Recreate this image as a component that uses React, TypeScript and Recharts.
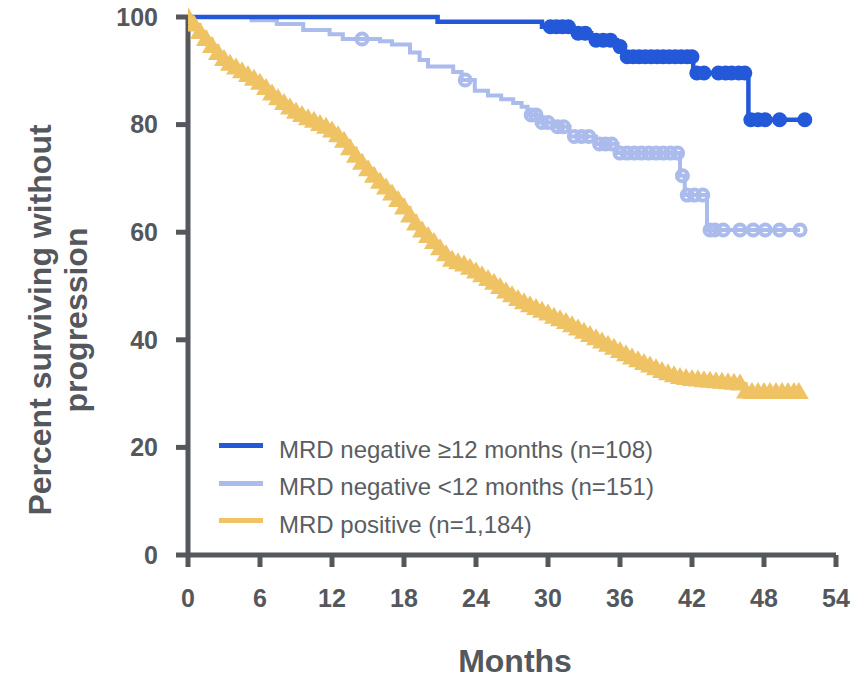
import { ComposedChart, Line, Scatter, XAxis, YAxis, Label } from "recharts";

const AXIS = "#54575c";
const FONT = "'Liberation Sans', Arial, sans-serif";

const monthTicks = [0, 6, 12, 18, 24, 30, 36, 42, 48, 54];
const percentTicks = [0, 20, 40, 60, 80, 100];

const seriesNames = [
  "MRD negative \u226512 months (n=108)",
  "MRD negative <12 months (n=151)",
  "MRD positive (n=1,184)",
];
const seriesColors = ["#2358d8", "#aabbec", "#efc264"];

// MRD negative >=12 months: KM steps + censor times
const negLongTimes = [0, 20.8, 29.5, 32.1, 33.6, 35.75, 36.25, 42.1, 46.7, 51.4];
const negLongSurv = [100, 99.1, 98.2, 97.0, 95.7, 94.5, 92.6, 89.6, 80.9, 80.9];
const negLongCensored = [
  30.2, 30.7, 31.2, 31.7, 32.5, 33.1, 34.0, 34.6, 35.2, 36.0, 36.6, 37.1, 37.6, 38.1,
  38.6, 39.1, 39.6, 40.1, 40.6, 41.1, 41.6, 42.0, 42.4, 43.0, 44.2, 44.8, 45.3, 45.9,
  46.4, 46.9, 47.5, 48.1, 49.3, 51.4,
];

// MRD negative <12 months
const negShortTimes = [
  0, 5.3, 7.4, 9.6, 11.8, 12.9, 16.0, 17.0, 18.5, 19.3, 20.0, 22.1, 22.8, 23.9, 25.0,
  26.1, 27.1, 27.8, 28.3, 29.2, 30.6, 31.8, 34.0, 35.8, 41.0, 41.4, 43.25, 51.0,
];
const negShortSurv = [
  100, 99.4, 98.7, 97.6, 96.8, 95.9, 95.5, 94.9, 93.4, 92.0, 90.8, 89.8, 88.3, 86.3, 85.4,
  84.7, 84.0, 83.3, 81.8, 80.4, 79.6, 77.8, 76.4, 74.7, 70.5, 66.9, 60.4, 60.4,
];
const negShortCensored = [
  14.5, 23.1, 28.6, 29.0, 29.5, 30.0, 30.8, 31.3, 32.2, 32.8, 33.4, 34.3, 34.8, 35.3,
  36.0, 36.6, 37.2, 37.8, 38.4, 39.0, 39.6, 40.2, 40.8, 41.2, 41.6, 42.2, 42.9, 43.5,
  43.9, 44.6, 46.0, 47.1, 48.1, 49.3, 51.0,
];

// MRD positive
const posTimes = [
  0, 0.5, 1, 1.5, 2, 2.5, 3, 3.5, 4, 4.5, 5, 5.5, 6, 6.5, 7, 7.5, 8, 8.5, 9, 9.5, 10,
  10.5, 11, 11.5, 12, 12.5, 13, 13.5, 14, 14.5, 15, 15.5, 16, 16.5, 17, 17.5, 18, 18.5,
  19, 19.5, 20, 20.5, 21, 21.5, 22, 22.5, 23, 23.5, 24, 24.5, 25, 25.5, 26, 26.5, 27,
  27.5, 28, 28.5, 29, 29.5, 30, 30.5, 31, 31.5, 32, 32.5, 33, 33.5, 34, 34.5, 35, 35.5,
  36, 36.5, 37, 37.5, 38, 38.5, 39, 39.5, 40, 40.5, 41, 41.5, 42, 42.5, 43, 43.5, 44,
  44.5, 45, 45.5, 46, 46.5, 47, 47.5, 48, 48.5, 49, 49.5, 50, 50.5, 50.9,
];
const posSurv = [
  100, 98.6, 97.2, 95.9, 94.6, 93.3, 92.2, 91.3, 90.6, 89.9, 89.2, 88.5, 87.8, 86.8, 85.8,
  84.9, 84.0, 83.2, 82.4, 81.8, 81.2, 80.7, 80.1, 79.6, 78.9, 78.0, 77.0, 75.6, 74.2, 72.9,
  71.7, 70.5, 69.4, 68.3, 67.2, 66.0, 64.6, 63.1, 61.6, 60.3, 59.3, 58.2, 57.0, 55.9, 54.9,
  54.4, 54.0, 53.4, 52.7, 52.0, 51.3, 50.6, 49.8, 49.0, 48.3, 47.6, 47.0, 46.4, 45.9, 45.4,
  44.9, 44.3, 43.8, 43.3, 42.7, 42.1, 41.5, 40.9, 40.3, 39.7, 39.1, 38.5, 37.9, 37.3, 36.7,
  36.2, 35.7, 35.2, 34.7, 34.2, 33.8, 33.4, 33.1, 32.9, 32.7, 32.6, 32.5, 32.4, 32.3, 32.2,
  32.1, 32.0, 31.9, 30.4, 30.3, 30.3, 30.3, 30.3, 30.3, 30.3, 30.3, 30.3, 30.3,
];

const toRows = (times: number[], surv: number[]) => times.map((t, i) => ({ t, s: surv[i] }));

function stepValue(times: number[], surv: number[], t: number) {
  let v = surv[0];
  times.forEach((tt, i) => {
    if (tt <= t) v = surv[i];
  });
  return v;
}

const censorRows = (times: number[], surv: number[], censored: number[]) =>
  censored.map((t) => ({ t, s: stepValue(times, surv, t) }));

const FilledDot = (p: any) => <circle cx={p.cx} cy={p.cy} r={7.5} fill={seriesColors[0]} />;
const OpenDot = (p: any) => (
  <circle cx={p.cx} cy={p.cy} r={5.5} fill="none" stroke={seriesColors[1]} strokeWidth={4} />
);
const Triangle = (p: any) => (
  <path d={`M${p.cx},${p.cy - 10}L${p.cx + 10},${p.cy + 7}L${p.cx - 10},${p.cy + 7}Z`} fill={seriesColors[2]} />
);

function YTitle() {
  return (
    <text
      transform="translate(0,320) rotate(-90)"
      textAnchor="middle"
      fill={AXIS}
      fontFamily={FONT}
      fontWeight={700}
      fontSize={32}
    >
      <tspan x={0} y={51}>Percent surviving without</tspan>
      <tspan x={0} y={87}>progression</tspan>
    </text>
  );
}

export default function App() {
  const posRows = toRows(posTimes, posSurv);
  return (
    <div style={{ position: "absolute", left: 0, top: 0, width: 863, height: 678, background: "#fff" }}>
      <ComposedChart width={863} height={678} margin={{ top: 17, right: 27, bottom: 63, left: 88 }}>
        <XAxis
          type="number"
          dataKey="t"
          domain={[0, 54]}
          ticks={monthTicks}
          interval={0}
          allowDataOverflow
          axisLine={{ stroke: AXIS, strokeWidth: 5 }}
          tickLine={{ stroke: AXIS, strokeWidth: 5 }}
          tickSize={12}
          tickMargin={22}
          height={60}
          tick={{ fill: AXIS, fontSize: 25, fontWeight: 700, fontFamily: FONT }}
        />
        <YAxis
          type="number"
          dataKey="s"
          domain={[0, 100]}
          ticks={percentTicks}
          interval={0}
          width={100}
          axisLine={{ stroke: AXIS, strokeWidth: 5 }}
          tickLine={{ stroke: AXIS, strokeWidth: 5 }}
          tickSize={12}
          tickMargin={18}
          tick={{ fill: AXIS, fontSize: 25, fontWeight: 700, fontFamily: FONT }}
        >
          <Label content={() => <YTitle />} />
        </YAxis>

        <Line
          data={posRows}
          dataKey="s"
          type="stepAfter"
          stroke={seriesColors[2]}
          strokeWidth={3}
          dot={false}
          activeDot={false}
          isAnimationActive={false}
        />
        <Scatter data={posRows} dataKey="s" shape={Triangle} isAnimationActive={false} />

        <Line
          data={toRows(negShortTimes, negShortSurv)}
          dataKey="s"
          type="stepAfter"
          stroke={seriesColors[1]}
          strokeWidth={4}
          dot={false}
          activeDot={false}
          isAnimationActive={false}
        />
        <Scatter
          data={censorRows(negShortTimes, negShortSurv, negShortCensored)}
          dataKey="s"
          shape={OpenDot}
          isAnimationActive={false}
        />

        <Line
          data={toRows(negLongTimes, negLongSurv)}
          dataKey="s"
          type="stepAfter"
          stroke={seriesColors[0]}
          strokeWidth={4.5}
          dot={false}
          activeDot={false}
          isAnimationActive={false}
        />
        <Scatter
          data={censorRows(negLongTimes, negLongSurv, negLongCensored)}
          dataKey="s"
          shape={FilledDot}
          isAnimationActive={false}
        />
      </ComposedChart>

      <div
        style={{
          position: "absolute",
          left: 415,
          top: 645,
          width: 200,
          textAlign: "center",
          fontFamily: FONT,
          fontWeight: 700,
          fontSize: 32,
          lineHeight: "32px",
          color: AXIS,
        }}
      >
        Months
      </div>

      <div style={{ position: "absolute", left: 219, top: 431, fontFamily: FONT, fontSize: 24, color: "#5a5d62" }}>
        {seriesNames.map((name, i) => (
          <div key={name} style={{ display: "flex", alignItems: "center", height: 37.5 }}>
            <span
              style={{ display: "inline-block", width: 44, height: 5, background: seriesColors[i], marginRight: 16, marginTop: -8 }}
            />
            <span>{name}</span>
          </div>
        ))}
      </div>
    </div>
  );
}
